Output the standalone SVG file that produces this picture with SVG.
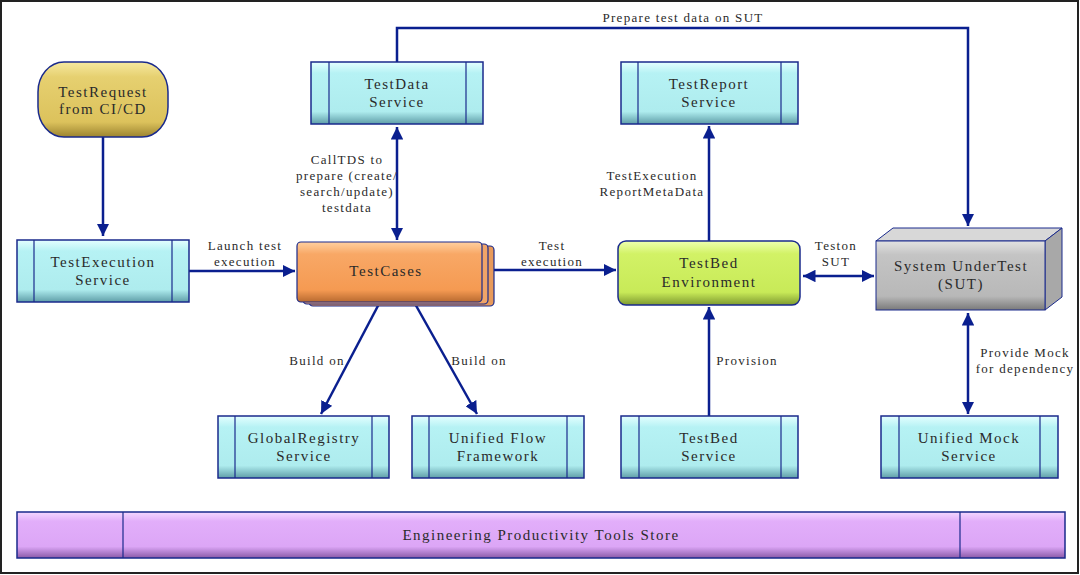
<svg xmlns="http://www.w3.org/2000/svg" width="1080" height="575" viewBox="0 0 1080 575">
<defs>
<linearGradient id="cyan" x1="0" y1="0" x2="0" y2="1">
<stop offset="0" stop-color="#e4ffff"/><stop offset="0.18" stop-color="#b6f2f4"/><stop offset="0.8" stop-color="#aeecee"/><stop offset="1" stop-color="#5f9ea8"/>
</linearGradient>
<linearGradient id="gold" x1="0" y1="0" x2="0" y2="1">
<stop offset="0" stop-color="#f6e9a0"/><stop offset="0.2" stop-color="#e6d070"/><stop offset="0.8" stop-color="#dcc25c"/><stop offset="1" stop-color="#9c8430"/>
</linearGradient>
<linearGradient id="orange" x1="0" y1="0" x2="0" y2="1">
<stop offset="0" stop-color="#ffd0a0"/><stop offset="0.2" stop-color="#f8a866"/><stop offset="0.8" stop-color="#f59a52"/><stop offset="1" stop-color="#b86a30"/>
</linearGradient>
<linearGradient id="green" x1="0" y1="0" x2="0" y2="1">
<stop offset="0" stop-color="#eeffb0"/><stop offset="0.2" stop-color="#d2f266"/><stop offset="0.8" stop-color="#c8ea58"/><stop offset="1" stop-color="#7e9a30"/>
</linearGradient>
<linearGradient id="gray" x1="0" y1="0" x2="0" y2="1">
<stop offset="0" stop-color="#e2e2e2"/><stop offset="0.2" stop-color="#c4c4c4"/><stop offset="0.8" stop-color="#b8b8b8"/><stop offset="1" stop-color="#7a7a7a"/>
</linearGradient>
<linearGradient id="purple" x1="0" y1="0" x2="0" y2="1">
<stop offset="0" stop-color="#f4d8ff"/><stop offset="0.2" stop-color="#e2aefa"/><stop offset="0.75" stop-color="#dca6f6"/><stop offset="1" stop-color="#8a5aa8"/>
</linearGradient>
<marker id="arr" viewBox="0 0 10 10" refX="10" refY="5" markerWidth="5" markerHeight="5" orient="auto-start-reverse" markerUnits="strokeWidth">
<path d="M0,0 L10,5 L0,10 z" fill="#0a1f8f"/>
</marker>
<style>
.svc{fill:url(#cyan);stroke:#1a2a8c;stroke-width:1.5}
.div{stroke:#1a2a8c;stroke-width:1.2}
.lbl{font-family:"Liberation Serif",serif;font-size:15px;fill:#2a2a2a;text-anchor:middle;letter-spacing:1.5px}
.cap{font-family:"Liberation Serif",serif;font-size:13px;fill:#2a2a2a;text-anchor:middle;letter-spacing:1.3px}
.con{fill:none;stroke:#0a1f8f;stroke-width:2.5}
</style>
</defs>
<rect x="0" y="0" width="1080" height="575" fill="#ffffff"/>
<rect x="1" y="1" width="1077" height="572" fill="none" stroke="#222" stroke-width="2"/>

<g id="connectors">
<path class="con" d="M103,137 V236" marker-end="url(#arr)"/>
<path class="con" d="M189,271 H295" marker-end="url(#arr)"/>
<path class="con" d="M397,127 V240" marker-start="url(#arr)" marker-end="url(#arr)"/>
<path class="con" d="M397,62 V28 H968 V226" marker-end="url(#arr)"/>
<path class="con" d="M494,270 H616" marker-end="url(#arr)"/>
<path class="con" d="M709,241 V126" marker-end="url(#arr)"/>
<path class="con" d="M803,276 H874" marker-start="url(#arr)" marker-end="url(#arr)"/>
<path class="con" d="M380,302 L321,414" marker-end="url(#arr)"/>
<path class="con" d="M414,302 L477,414" marker-end="url(#arr)"/>
<path class="con" d="M709,416 V307" marker-end="url(#arr)"/>
<path class="con" d="M968,313 V414" marker-start="url(#arr)" marker-end="url(#arr)"/>
<text class="cap" x="683" y="22">Prepare test data on SUT</text>
<text class="cap" x="347" y="164">CallTDS to</text>
<text class="cap" x="347" y="180">prepare (create/</text>
<text class="cap" x="347" y="196">search/update)</text>
<text class="cap" x="347" y="212">testdata</text>
<text class="cap" x="245" y="250">Launch test</text>
<text class="cap" x="245" y="266">execution</text>
<text class="cap" x="552" y="250">Test</text>
<text class="cap" x="552" y="266">execution</text>
<text class="cap" x="836" y="250">Teston</text>
<text class="cap" x="836" y="266">SUT</text>
<text class="cap" x="652" y="180">TestExecution</text>
<text class="cap" x="652" y="196">ReportMetaData</text>
<text class="cap" x="317" y="365">Build on</text>
<text class="cap" x="479" y="365">Build on</text>
<text class="cap" x="747" y="365">Provision</text>
<text class="cap" x="1025" y="357">Provide Mock</text>
<text class="cap" x="1025" y="373">for dependency</text>
</g>

<g id="testrequest">
<rect x="38" y="62" width="130" height="75" rx="26" ry="30" fill="url(#gold)" stroke="#1a2a8c" stroke-width="1.5"/>
<text class="lbl" x="103" y="97">TestRequest</text>
<text class="lbl" x="103" y="114">from CI/CD</text>
</g>

<g id="testdata">
<rect class="svc" x="311" y="62" width="172" height="62"/>
<line class="div" x1="329" y1="62" x2="329" y2="124"/><line class="div" x1="466" y1="62" x2="466" y2="124"/>
<text class="lbl" x="397" y="89">TestData</text>
<text class="lbl" x="397" y="107">Service</text>
</g>

<g id="testreport">
<rect class="svc" x="621" y="62" width="177" height="62"/>
<line class="div" x1="638" y1="62" x2="638" y2="124"/><line class="div" x1="781" y1="62" x2="781" y2="124"/>
<text class="lbl" x="709" y="89">TestReport</text>
<text class="lbl" x="709" y="107">Service</text>
</g>

<g id="testexecution">
<rect class="svc" x="17" y="240" width="172" height="62"/>
<line class="div" x1="34" y1="240" x2="34" y2="302"/><line class="div" x1="172" y1="240" x2="172" y2="302"/>
<text class="lbl" x="103" y="267">TestExecution</text>
<text class="lbl" x="103" y="285">Service</text>
</g>

<g id="testcases">
<rect x="309" y="246" width="185" height="60" rx="4" fill="#e89a5a" stroke="#1a2a8c" stroke-width="1.2"/>
<rect x="303" y="244" width="185" height="60" rx="4" fill="#f0a468" stroke="#1a2a8c" stroke-width="1.2"/>
<rect x="297" y="242" width="185" height="60" rx="4" fill="url(#orange)" stroke="#1a2a8c" stroke-width="1.2"/>
<text class="lbl" x="386" y="276">TestCases</text>
</g>

<g id="testbedenv">
<rect x="618" y="241" width="182" height="64" rx="8" fill="url(#green)" stroke="#1a2a8c" stroke-width="1.5"/>
<text class="lbl" x="709" y="268">TestBed</text>
<text class="lbl" x="709" y="287">Environment</text>
</g>

<g id="sut">
<polygon points="876,241 893,228 1062,228 1045,241" fill="#d8d8d8" stroke="#1a2a8c" stroke-width="1"/>
<polygon points="1045,241 1062,228 1062,297 1045,310" fill="#a8a8a8" stroke="#1a2a8c" stroke-width="1"/>
<rect x="876" y="241" width="169" height="69" fill="url(#gray)" stroke="#1a2a8c" stroke-width="1"/>
<text class="lbl" x="961" y="271">System UnderTest</text>
<text class="lbl" x="961" y="289">(SUT)</text>
</g>

<g id="globalregistry">
<rect class="svc" x="218" y="416" width="171" height="62"/>
<line class="div" x1="235" y1="416" x2="235" y2="478"/><line class="div" x1="372" y1="416" x2="372" y2="478"/>
<text class="lbl" x="304" y="443">GlobalRegistry</text>
<text class="lbl" x="304" y="461">Service</text>
</g>

<g id="unifiedflow">
<rect class="svc" x="412" y="416" width="172" height="62"/>
<line class="div" x1="429" y1="416" x2="429" y2="478"/><line class="div" x1="567" y1="416" x2="567" y2="478"/>
<text class="lbl" x="498" y="443">Unified Flow</text>
<text class="lbl" x="498" y="461">Framework</text>
</g>

<g id="testbedservice">
<rect class="svc" x="621" y="416" width="177" height="62"/>
<line class="div" x1="639" y1="416" x2="639" y2="478"/><line class="div" x1="781" y1="416" x2="781" y2="478"/>
<text class="lbl" x="709" y="443">TestBed</text>
<text class="lbl" x="709" y="461">Service</text>
</g>

<g id="unifiedmock">
<rect class="svc" x="881" y="416" width="177" height="62"/>
<line class="div" x1="899" y1="416" x2="899" y2="478"/><line class="div" x1="1040" y1="416" x2="1040" y2="478"/>
<text class="lbl" x="969" y="443">Unified Mock</text>
<text class="lbl" x="969" y="461">Service</text>
</g>

<g id="toolsstore">
<rect x="17" y="512" width="1048" height="46" fill="url(#purple)" stroke="#1a2a8c" stroke-width="1.5"/>
<line class="div" x1="123" y1="512" x2="123" y2="558"/><line class="div" x1="960" y1="512" x2="960" y2="558"/>
<text class="lbl" x="541" y="540">Engineering Productivity Tools Store</text>
</g>
</svg>
